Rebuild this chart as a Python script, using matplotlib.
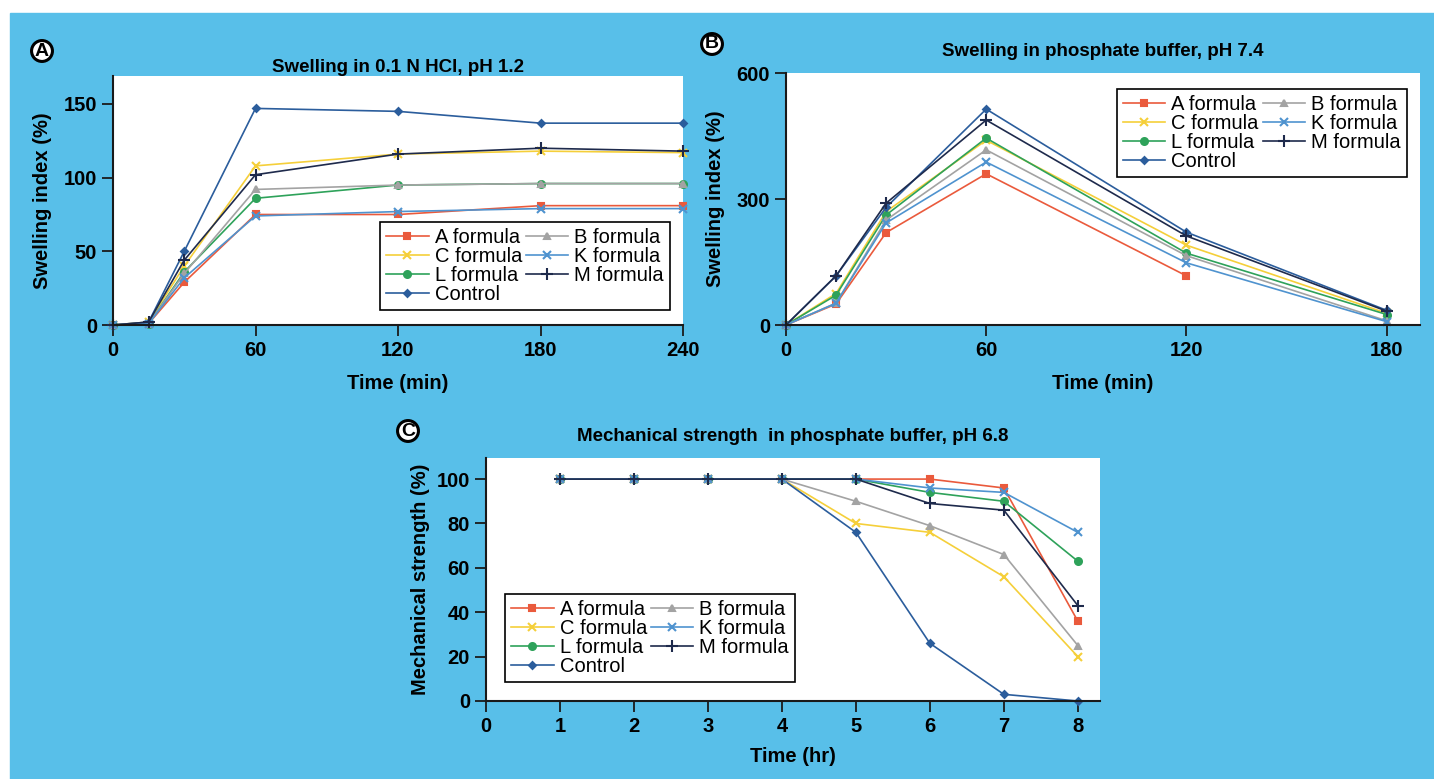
import numpy as np
import matplotlib
matplotlib.use('Agg')
import matplotlib.pyplot as plt
from matplotlib.patches import Rectangle

plt.rcParams['font.family'] = ['Liberation Sans', 'DejaVu Sans']

# ---- data ----
names = ['A formula', 'C formula', 'L formula', 'Control', 'B formula', 'K formula', 'M formula']

t_a = [0, 15, 30, 60, 120, 180, 240]
swell_hcl = {
    'A formula': [0, 1, 29, 75, 75, 81, 81],
    'B formula': [0, 1, 35, 92, 95, 96, 96],
    'C formula': [0, 2, 40, 108, 116, 118, 117],
    'K formula': [0, 1, 32, 74, 77, 79, 79],
    'L formula': [0, 1, 36, 86, 95, 96, 96],
    'M formula': [0, 2, 44, 102, 116, 120, 118],
    'Control':   [0, 2, 50, 147, 145, 137, 137],
}

t_b = [0, 15, 30, 60, 120, 180]
swell_pbs = {
    'A formula': [0, 50, 220, 360, 117, np.nan],
    'B formula': [0, 52, 250, 417, 165, 10],
    'C formula': [0, 75, 270, 440, 190, 28],
    'K formula': [0, 52, 243, 388, 148, 8],
    'L formula': [0, 71, 262, 445, 171, 25],
    'M formula': [0, 117, 290, 488, 212, 33],
    'Control':   [0, 117, 280, 514, 221, 35],
}

t_c = [1, 2, 3, 4, 5, 6, 7, 8]
strength = {
    'A formula': [100, 100, 100, 100, 100, 100, 96, 36],
    'B formula': [100, 100, 100, 100, 90, 79, 66, 25],
    'C formula': [100, 100, 100, 100, 80, 76, 56, 20],
    'K formula': [100, 100, 100, 100, 100, 96, 94, 76],
    'L formula': [100, 100, 100, 100, 100, 94, 90, 63],
    'M formula': [100, 100, 100, 100, 100, 89, 86, 43],
    'Control':   [100, 100, 100, 100, 76, 26, 3, 0],
}

style = {
    'A formula': dict(color='#ea5a3c', marker='s', ms=5),
    'B formula': dict(color='#a3a3a3', marker='^', ms=5),
    'C formula': dict(color='#f5cf3a', marker='x', ms=6),
    'K formula': dict(color='#4f93cf', marker='x', ms=6),
    'L formula': dict(color='#2ea25a', marker='o', ms=5),
    'M formula': dict(color='#1e2a4c', marker='+', ms=8),
    'Control':   dict(color='#2b5d9c', marker='D', ms=3.5),
}

W, H = 1434, 779
fig = plt.figure(figsize=(W / 100, H / 100), dpi=100, facecolor='white')
fig.patches.append(Rectangle((10 / W, 0), 1 - 10 / W, 1 - 13 / H,
                             transform=fig.transFigure, color='#58bfe9', zorder=-10))


def make_ax(l, t, r, b):
    ax = fig.add_axes([l / W, 1 - b / H, (r - l) / W, (b - t) / H])
    ax.set_facecolor('white')
    for s in ['top', 'right']:
        ax.spines[s].set_visible(False)
    for s in ['left', 'bottom']:
        ax.spines[s].set_linewidth(1.5)
        ax.spines[s].set_color('#1a1a1a')
    ax.tick_params(direction='out', length=8, width=1.3, labelsize=14.5, color='#1a1a1a')
    return ax


def bold_ticks(ax):
    for lab in ax.get_xticklabels() + ax.get_yticklabels():
        lab.set_fontweight('bold')


def draw(ax, t, data, loc, anchor):
    for n in names:
        st = style[n]
        ax.plot(t, data[n], color=st['color'], marker=st['marker'], ms=st['ms'],
                lw=1.2, mew=1.5, label=n, clip_on=False)
    leg = ax.legend(ncol=2, numpoints=1, fontsize=14.5, handlelength=2.1,
                    columnspacing=0.2, handletextpad=0.3, labelspacing=0.0,
                    borderpad=0.3, fancybox=False, framealpha=1,
                    loc=loc, bbox_to_anchor=anchor)
    leg.get_frame().set_edgecolor('black')
    leg.get_frame().set_linewidth(1.2)
    return leg


def circled(x, y, s):
    fig.text(x / W, 1 - y / H, s, fontsize=14, fontweight='bold', ha='center', va='center',
             bbox=dict(boxstyle='circle,pad=0.1', fc='white', ec='black', lw=2.2))


# ---- panel A ----
ax = make_ax(113, 76, 683, 325)
draw(ax, t_a, swell_hcl, 'lower right', (0.995, 0.02))
ax.set_xlim(0, 240)
ax.set_ylim(0, 169)
ax.set_xticks([0, 60, 120, 180, 240])
ax.set_yticks([0, 50, 100, 150])
bold_ticks(ax)
ax.set_xlabel('Time (min)', fontsize=14.5, fontweight='bold', labelpad=10)
ax.set_ylabel('Swelling index (%)', fontsize=14.5, fontweight='bold', labelpad=8)
ax.set_title('Swelling in 0.1 N HCl, pH 1.2', fontsize=13.5, fontweight='bold', pad=3)
circled(42, 51, 'A')

# ---- panel B ----
ax = make_ax(786, 73, 1420, 325)
draw(ax, t_b, swell_pbs, 'upper right', (0.995, 0.975))
ax.set_xlim(0, 190)
ax.set_ylim(0, 600)
ax.set_xticks([0, 60, 120, 180])
ax.set_yticks([0, 300, 600])
bold_ticks(ax)
ax.set_xlabel('Time (min)', fontsize=14.5, fontweight='bold', labelpad=10)
ax.set_ylabel('Swelling index (%)', fontsize=14.5, fontweight='bold', labelpad=8)
ax.set_title('Swelling in phosphate buffer, pH 7.4', fontsize=13.5, fontweight='bold', pad=12)
circled(712, 44, 'B')

# ---- panel C ----
ax = make_ax(486, 458, 1100, 701)
draw(ax, t_c, strength, 'lower left', (0.015, 0.035))
ax.set_xlim(0, 8.3)
ax.set_ylim(0, 109.5)
ax.set_xticks(range(0, 9))
ax.set_yticks(range(0, 101, 20))
bold_ticks(ax)
ax.set_xlabel('Time (hr)', fontsize=14.5, fontweight='bold', labelpad=8)
ax.set_ylabel('Mechanical strength (%)', fontsize=14.5, fontweight='bold', labelpad=5)
ax.set_title('Mechanical strength  in phosphate buffer, pH 6.8', fontsize=13.5,
             fontweight='bold', pad=12)
circled(408, 431, 'C')

fig.savefig('out.png', dpi=100, facecolor=fig.get_facecolor())
